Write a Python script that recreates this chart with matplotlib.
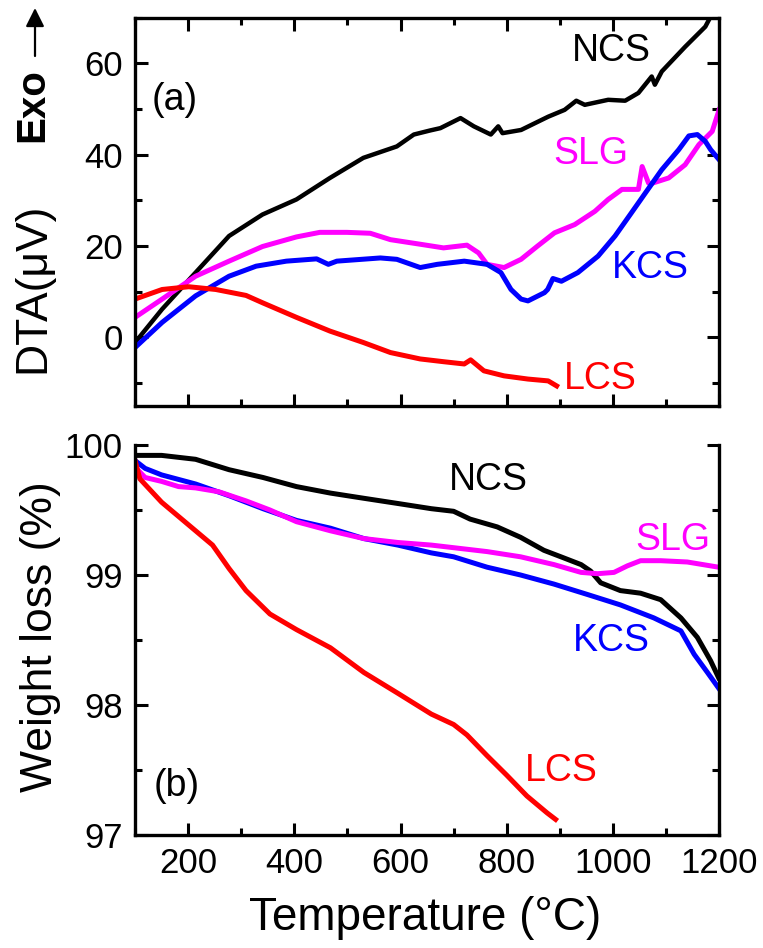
import numpy as np
import matplotlib.pyplot as plt
from matplotlib.ticker import MultipleLocator

plt.rcParams['font.family'] = ['Liberation Sans', 'DejaVu Sans']

# ---- DTA curves (uV) ----
ncs_dta_T = [100, 151, 214, 277, 340, 404, 467, 530, 593, 625, 656, 675, 713, 738, 770, 784,
             792, 827, 878, 909, 931, 947, 991, 1023, 1048, 1073, 1079, 1092, 1136, 1174, 1184, 1200]
ncs_dta = [-1.1, 6.2, 14.2, 22.2, 26.9, 30.2, 34.9, 39.3, 41.8, 44.4, 45.3, 45.8, 48.0, 46.2, 44.4, 46.2,
           44.7, 45.4, 48.3, 49.8, 51.8, 50.9, 52.0, 51.8, 53.5, 57.1, 55.3, 58.2, 63.6, 68.0, 70.2, 72.5]

slg_dta_T = [100, 151, 214, 277, 340, 404, 448, 499, 543, 581, 637, 681, 725, 747, 763, 795, 827,
             858, 890, 928, 966, 991, 1017, 1048, 1055, 1067, 1070, 1105, 1136, 1162, 1187, 1200]
slg_dta = [4.4, 8.4, 13.4, 16.7, 19.9, 22.0, 23.0, 23.0, 22.8, 21.4, 20.4, 19.6, 20.2, 18.5, 16.0, 15.3, 17.1,
           20.0, 22.9, 24.7, 27.6, 30.2, 32.4, 32.4, 37.4, 33.8, 33.6, 34.9, 37.8, 42.2, 45.1, 49.8]

kcs_dta_T = [100, 151, 214, 277, 328, 385, 442, 464, 480, 562, 593, 637, 669, 720, 763, 789, 808, 827,
             840, 871, 877, 887, 903, 934, 972, 1004, 1035, 1061, 1092, 1124, 1143, 1159, 1174, 1184, 1200]
kcs_dta = [-2.2, 3.3, 9.1, 13.4, 15.6, 16.7, 17.2, 16.0, 16.7, 17.4, 17.1, 15.3, 16.0, 16.7, 16.0, 14.2, 10.5, 8.4,
           8.0, 9.8, 10.5, 12.9, 12.3, 14.2, 17.8, 22.2, 27.3, 31.6, 36.7, 41.1, 44.1, 44.4, 42.9, 41.1, 38.9]

lcs_dta_T = [100, 151, 201, 252, 309, 340, 404, 467, 530, 581, 637, 681, 720, 732, 757, 795, 840, 878, 894]
lcs_dta = [8.4, 10.5, 11.1, 10.5, 9.2, 7.6, 4.4, 1.4, -1.1, -3.3, -4.7, -5.3, -5.8, -4.9, -7.3, -8.4, -9.1, -9.5, -10.6]

# ---- TG curves (weight %) ----
ncs_tg_T = [100, 150, 214, 277, 341, 404, 468, 531, 595, 658, 700, 731, 782, 826, 870, 902, 940, 958,
            977, 1014, 1052, 1090, 1128, 1159, 1184, 1199]
ncs_tg = [99.92, 99.92, 99.89, 99.81, 99.75, 99.68, 99.63, 99.59, 99.55, 99.51, 99.49, 99.43, 99.37, 99.29,
          99.19, 99.14, 99.08, 99.03, 98.94, 98.88, 98.86, 98.81, 98.67, 98.52, 98.34, 98.21]

slg_tg_T = [100, 119, 150, 182, 214, 258, 309, 354, 404, 468, 531, 595, 658, 700, 763, 826, 889, 940,
            971, 1002, 1027, 1052, 1090, 1140, 1199]
slg_tg = [99.83, 99.75, 99.72, 99.68, 99.67, 99.64, 99.57, 99.50, 99.41, 99.34, 99.28, 99.25, 99.23, 99.21,
          99.18, 99.14, 99.08, 99.02, 99.01, 99.02, 99.07, 99.11, 99.11, 99.10, 99.06]

kcs_tg_T = [100, 119, 150, 214, 277, 341, 404, 468, 531, 595, 658, 700, 763, 826, 889, 952, 1014, 1077,
            1128, 1153, 1178, 1199]
kcs_tg = [99.88, 99.82, 99.77, 99.70, 99.61, 99.51, 99.42, 99.36, 99.28, 99.23, 99.17, 99.14, 99.06, 99.00,
          98.93, 98.85, 98.77, 98.67, 98.57, 98.39, 98.25, 98.13]

lcs_tg_T = [100, 109, 150, 214, 246, 277, 309, 354, 404, 468, 531, 595, 658, 700, 725, 763, 800, 838, 876, 892]
lcs_tg = [99.88, 99.74, 99.56, 99.34, 99.23, 99.05, 98.88, 98.70, 98.58, 98.44, 98.25, 98.09, 97.93, 97.85,
          97.77, 97.61, 97.46, 97.30, 97.17, 97.12]

fig = plt.figure(figsize=(7.63, 9.48), dpi=100)
ax1 = fig.add_axes([0.177, 0.5717, 0.7655, 0.4098])
ax2 = fig.add_axes([0.177, 0.1192, 0.7655, 0.4114])

lw = 3.6
ax1.plot(ncs_dta_T, ncs_dta, color='black', lw=3.2)
ax1.plot(slg_dta_T, slg_dta, color='#ff00ff', lw=lw)
ax1.plot(kcs_dta_T, kcs_dta, color='#0000ff', lw=lw)
ax1.plot(lcs_dta_T, lcs_dta, color='#ff0000', lw=lw)

ax2.plot(ncs_tg_T, ncs_tg, color='black', lw=lw)
ax2.plot(kcs_tg_T, kcs_tg, color='#0000ff', lw=lw)
ax2.plot(slg_tg_T, slg_tg, color='#ff00ff', lw=lw)
ax2.plot(lcs_tg_T, lcs_tg, color='#ff0000', lw=lw)

ax1.set_xlim(100, 1200)
ax1.set_ylim(-15, 70)
ax2.set_xlim(100, 1200)
ax2.set_ylim(97, 100)

for ax in (ax1, ax2):
    ax.xaxis.set_major_locator(MultipleLocator(200))
    ax.xaxis.set_minor_locator(MultipleLocator(100))
    for s in ax.spines.values():
        s.set_linewidth(2.4)
    ax.tick_params(which='both', direction='in', width=2.2, labelsize=25, pad=9,
                   right=True)
    ax.tick_params(which='major', length=9)
    ax.tick_params(which='minor', length=5)

ax1.yaxis.set_major_locator(MultipleLocator(20))
ax1.yaxis.set_minor_locator(MultipleLocator(10))
ax1.tick_params(which='both', top=True, labelbottom=False)

ax2.yaxis.set_major_locator(MultipleLocator(1))
ax2.yaxis.set_minor_locator(MultipleLocator(0.5))
ax2.spines['top'].set_visible(False)
ax2.tick_params(which='both', top=False)

fs = 27
ax1.text(998, 62.7, 'NCS', color='black', fontsize=fs, ha='center', va='center')
ax1.text(959, 40.2, 'SLG', color='#ff00ff', fontsize=fs, ha='center', va='center')
ax1.text(1070, 15.3, 'KCS', color='#0000ff', fontsize=fs, ha='center', va='center')
ax1.text(977, -9.0, 'LCS', color='#ff0000', fontsize=fs, ha='center', va='center')
ax1.text(174, 52.0, '(a)', color='black', fontsize=fs, ha='center', va='center')

ax2.text(766, 99.73, 'NCS', color='black', fontsize=fs, ha='center', va='center')
ax2.text(1112, 99.27, 'SLG', color='#ff00ff', fontsize=fs, ha='center', va='center')
ax2.text(997, 98.49, 'KCS', color='#0000ff', fontsize=fs, ha='center', va='center')
ax2.text(902, 97.49, 'LCS', color='#ff0000', fontsize=fs, ha='center', va='center')
ax2.text(179, 97.38, '(b)', color='black', fontsize=fs, ha='center', va='center')

# axis titles
fig.text(33 / 763, 1 - 288 / 948, 'DTA(μV)', rotation=90, fontsize=32, ha='center', va='center')
fig.text(32 / 763, 1 - 105 / 948, 'Exo', rotation=90, fontsize=29, fontweight='bold',
         ha='center', va='center')
ax1.annotate('', xy=(35, 948 - 8), xytext=(35, 948 - 56), xycoords='figure pixels',
             textcoords='figure pixels',
             arrowprops=dict(arrowstyle='-|>', lw=1.6, color='black', mutation_scale=28,
                             shrinkA=0, shrinkB=0))
fig.text(41 / 763, 1 - 637 / 948, 'Weight loss (%)', rotation=90, fontsize=32,
         ha='center', va='center')
fig.text(425 / 763, 1 - 918 / 948, 'Temperature (°C)', fontsize=33, ha='center', va='center')

fig.savefig('out.png', dpi=100)
